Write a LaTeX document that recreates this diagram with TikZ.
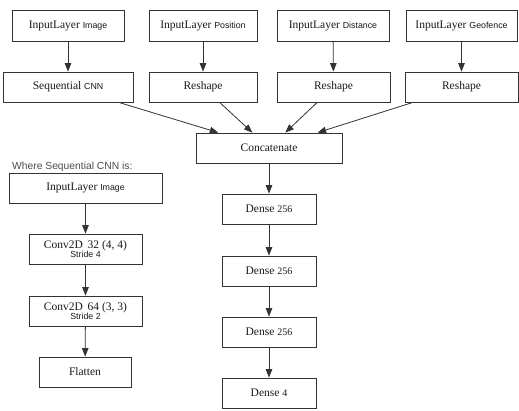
\documentclass[tikz,border=0pt]{standalone}
\usepackage{fontspec}
\setmainfont{Liberation Serif}
\setsansfont{Liberation Sans}
\usetikzlibrary{arrows.meta}
\newcommand{\smlab}[1]{{\sffamily\fontsize{8.8}{10}\selectfont #1}}
\newcommand{\numlab}[1]{{\fontsize{10}{12}\selectfont #1}}
\begin{document}
\begin{tikzpicture}[x=1pt,y=-1pt,
  layer/.style={draw=black!80, line width=0.8pt, fill=white, minimum height=30pt,
    inner sep=0pt, font=\fontsize{11.5}{13}\selectfont, text=black!90},
  conn/.style={draw=black!80, line width=0.8pt, -{Triangle[length=8.5pt,width=6.5pt]}}]
\useasboundingbox (0,0) rectangle (519,411);
\fill[white] (0,0) rectangle (519,411);
% top row
\node[layer, minimum width=112pt, minimum height=31pt] (in1) at (68,25.5) {InputLayer \smlab{Image}};
\node[layer, minimum width=108pt, minimum height=31pt] (in2) at (203,25.5) {InputLayer \smlab{Position}};
\node[layer, minimum width=112pt, minimum height=31pt] (in3) at (333,25.5) {InputLayer \smlab{Distance}};
\node[layer, minimum width=111pt, minimum height=31pt] (in4) at (461.5,25.5) {InputLayer \smlab{Geofence}};
% second row
\node[layer, minimum width=130pt] (seq) at (68,87) {Sequential \smlab{CNN}};
\node[layer, minimum width=108pt] (r1) at (203,87) {Reshape};
\node[layer, minimum width=113pt] (r2) at (333.5,87) {Reshape};
\node[layer, minimum width=113pt] (r3) at (461.5,87) {Reshape};
% main column
\node[layer, minimum width=146pt] (cat) at (269,148) {Concatenate};
\node[layer, minimum width=94pt] (d1) at (269,209) {Dense \numlab{256}};
\node[layer, minimum width=94pt] (d2) at (269,271) {Dense \numlab{256}};
\node[layer, minimum width=94pt] (d3) at (269,332) {Dense \numlab{256}};
\node[layer, minimum width=94pt] (d4) at (269,393) {Dense \numlab{4}};
% sequential CNN detail
\node[anchor=west, inner sep=0pt, text=black!70, font=\sffamily\fontsize{10.3}{12}\selectfont] (where) at (12,167) {Where Sequential CNN is:};
\node[layer, minimum width=153pt] (ci) at (85.5,188) {InputLayer \smlab{Image}};
\node[layer, minimum width=113pt, align=center] (c1) at (85.5,249) {Conv2D\, 32 (4, 4)\\[-3.5pt]\smlab{Stride 4}};
\node[layer, minimum width=113pt, align=center] (c2) at (85.5,311) {Conv2D\, 64 (3, 3)\\[-3.5pt]\smlab{Stride 2}};
\node[layer, minimum width=92pt] (fl) at (85,372) {Flatten};
% connectors
\draw[conn] (in1) -- (seq);
\draw[conn] (in2) -- (r1);
\draw[conn] (in3) -- (r2);
\draw[conn] (in4) -- (r3);
\draw[conn] (seq) -- (cat);
\draw[conn] (r1) -- (cat);
\draw[conn] (r2) -- (cat);
\draw[conn] (r3) -- (cat);
\draw[conn] (cat) -- (d1);
\draw[conn] (d1) -- (d2);
\draw[conn] (d2) -- (d3);
\draw[conn] (d3) -- (d4);
\draw[conn] (ci) -- (c1);
\draw[conn] (c1) -- (c2);
\draw[conn] (c2) -- (fl);
\end{tikzpicture}
\end{document}
